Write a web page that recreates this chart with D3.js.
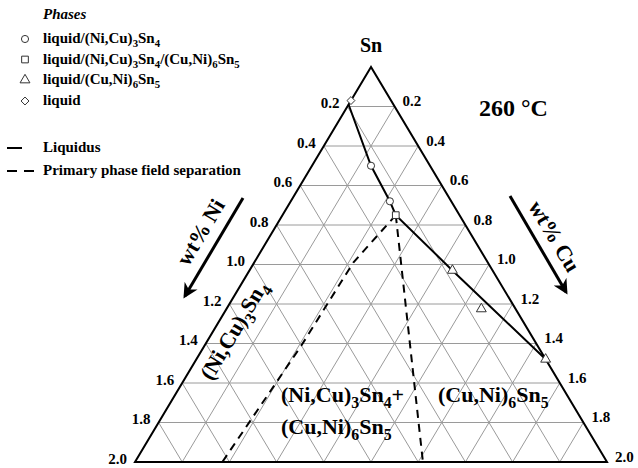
<!DOCTYPE html>
<html>
<head>
<meta charset="utf-8">
<script src="https://cdn.jsdelivr.net/npm/d3@7"></script>
<style>
  body { margin: 0; background: #fff; }
  svg { display: block; }
  text { font-family: "Liberation Serif", "Times New Roman", serif; font-weight: bold; fill: #000; }
</style>
</head>
<body>
<svg id="chart" width="638" height="468"></svg>
<script>
// Sn-rich corner of the Sn-Ni-Cu system, compositions in wt%
const axisMax = 2.0;
const tickValues = [0.2, 0.4, 0.6, 0.8, 1.0, 1.2, 1.4, 1.6, 1.8, 2.0];
const gridSteps = [0.2, 0.4, 0.6, 0.8, 1.0, 1.2, 1.4, 1.6, 1.8];

// measured alloys, each point is [wt% Ni, wt% Cu]
const liqNiCu3Sn4 = [[0.25, 0.25], [0.26, 0.42]];
const liqNiCu3Sn4CuNi6Sn5 = [[0.27, 0.48]];
const liqCuNi6Sn5 = [[0.17, 0.86], [0.145, 1.08], [0.0, 1.48]];
const liqOnly = [[0.17, 0.0]];

// liquidus and the two primary-phase-field boundaries
const liquidus = [[0.19, 0.0], [0.25, 0.25], [0.26, 0.42], [0.27, 0.48], [0.17, 0.86], [0.0, 1.48]];
const boundaryNi3Sn4 = [[0.27, 0.48], [0.57, 0.42], [1.0, 0.41], [1.63, 0.37]];
const boundaryCu6Sn5 = [[0.27, 0.48], [0.78, 1.22]];

const phaseLabels = ["liquid/(Ni,Cu)_3Sn_4", "liquid/(Ni,Cu)_3Sn_4/(Cu,Ni)_6Sn_5", "liquid/(Cu,Ni)_6Sn_5", "liquid"];
const lineLabels = ["Liquidus", "Primary phase field separation"];

const svg = d3.select("#chart");

// depth below the Sn apex follows Ni+Cu, horizontal offset follows Cu-Ni
const yScale = d3.scaleLinear().domain([0, axisMax]).range([67, 462]);
const xScale = d3.scaleLinear().domain([-axisMax, axisMax]).range([135, 607]);
const proj = ([ni, cu]) => [xScale(cu - ni), yScale(ni + cu)];
const line = d3.line().x(d => proj(d)[0]).y(d => proj(d)[1]);

// text with numeric subscripts written as "_3"
function rich(sel, str, fs) {
  const parts = str.split(/(_\d)/).filter(s => s.length);
  let shifted = false;
  parts.forEach(p => {
    if (p[0] === "_") {
      sel.append("tspan").attr("font-size", fs * 0.72).attr("dy", fs * 0.28).text(p.slice(1));
      shifted = true;
    } else {
      const t = sel.append("tspan").text(p);
      if (shifted) { t.attr("dy", -fs * 0.28); shifted = false; }
    }
  });
  return sel;
}

// grid
const grid = svg.append("g").attr("stroke", "#9a9a9a").attr("stroke-width", 1).attr("fill", "none");
gridSteps.forEach(s => {
  grid.append("path").attr("d", line([[s, 0], [0, s]]));
  grid.append("path").attr("d", line([[s, 0], [s, axisMax - s]]));
  grid.append("path").attr("d", line([[0, s], [axisMax - s, s]]));
});

// outline
svg.append("path")
  .attr("d", line([[0, 0], [axisMax, 0], [0, axisMax]]) + "Z")
  .attr("fill", "none").attr("stroke", "#000").attr("stroke-width", 2).attr("stroke-linejoin", "miter");

// tick labels
const tickFmt = d3.format(".1f");
svg.append("g").selectAll("text").data(tickValues).join("text")
  .attr("x", d => proj([d, 0])[0] - 8).attr("y", d => proj([d, 0])[1] + 1.5)
  .attr("text-anchor", "end").attr("font-size", 15).text(tickFmt);
svg.append("g").selectAll("text").data(tickValues).join("text")
  .attr("x", d => proj([0, d])[0] + 8).attr("y", d => proj([0, d])[1] - 0.5)
  .attr("text-anchor", "start").attr("font-size", 15).text(tickFmt);

// phase boundaries
svg.append("path").attr("d", line(boundaryNi3Sn4))
  .attr("fill", "none").attr("stroke", "#000").attr("stroke-width", 2).attr("stroke-dasharray", "8,6");
svg.append("path").attr("d", line(boundaryCu6Sn5))
  .attr("fill", "none").attr("stroke", "#000").attr("stroke-width", 2).attr("stroke-dasharray", "8,6");
svg.append("path").attr("d", line(liquidus))
  .attr("fill", "none").attr("stroke", "#000").attr("stroke-width", 2);

// markers
const symbols = [d3.symbolCircle, d3.symbolSquare, d3.symbolTriangle, d3.symbolDiamond2];
const sizes = [40, 45, 42, 40];
const phaseSets = [liqNiCu3Sn4, liqNiCu3Sn4CuNi6Sn5, liqCuNi6Sn5, liqOnly];
phaseSets.forEach((pts, i) => {
  svg.append("g").selectAll("path").data(pts).join("path")
    .attr("d", d3.symbol(symbols[i], sizes[i]))
    .attr("transform", d => `translate(${proj(d)[0]},${proj(d)[1]})`)
    .attr("fill", "#fff").attr("stroke", "#333").attr("stroke-width", 1);
});

// apex and temperature
svg.append("text").attr("x", xScale(0)).attr("y", 51.5).attr("text-anchor", "middle")
  .attr("font-size", 20).text("Sn");
svg.append("text").attr("x", 479).attr("y", 116).attr("font-size", 24).text("260 °C");

// axis titles with arrows
const edgeAngle = Math.atan2(yScale(axisMax) - yScale(0), xScale(0) - xScale(-axisMax)) * 180 / Math.PI;
svg.append("text").attr("transform", `translate(207,236) rotate(${-edgeAngle})`)
  .attr("text-anchor", "middle").attr("font-size", 22).text("wt% Ni");
svg.append("text").attr("transform", `translate(548,240) rotate(${edgeAngle})`)
  .attr("text-anchor", "middle").attr("font-size", 22).text("wt% Cu");

const defs = svg.append("defs");
defs.append("marker").attr("id", "head").attr("viewBox", "0 0 10 10")
  .attr("refX", 8).attr("refY", 5).attr("markerWidth", 5).attr("markerHeight", 5)
  .attr("orient", "auto").attr("markerUnits", "strokeWidth")
  .append("path").attr("d", "M0,0 L10,5 L0,10 L3,5 Z").attr("fill", "#000");
[[[243, 198], [185, 296]], [[510, 196], [566, 292]]].forEach(([a, b]) => {
  svg.append("line").attr("x1", a[0]).attr("y1", a[1]).attr("x2", b[0]).attr("y2", b[1])
    .attr("stroke", "#000").attr("stroke-width", 3).attr("marker-end", "url(#head)");
});

// primary phase field labels
rich(svg.append("text").attr("transform", `translate(240,334) rotate(${-edgeAngle})`)
  .attr("text-anchor", "middle").attr("font-size", 22), "(Ni,Cu)_3Sn_4", 22);
rich(svg.append("text").attr("x", 281).attr("y", 402).attr("font-size", 22), "(Ni,Cu)_3Sn_4+", 22);
rich(svg.append("text").attr("x", 281).attr("y", 434).attr("font-size", 22), "(Cu,Ni)_6Sn_5", 22);
rich(svg.append("text").attr("x", 438).attr("y", 402).attr("font-size", 22), "(Cu,Ni)_6Sn_5", 22);

// legend
svg.append("text").attr("x", 43).attr("y", 18.5).attr("font-size", 15).attr("font-style", "italic").text("Phases");
const rowY = [43, 63.5, 84, 105];
phaseLabels.forEach((lab, i) => {
  svg.append("path").attr("d", d3.symbol(symbols[i], sizes[i]))
    .attr("transform", `translate(25,${rowY[i] - 4})`)
    .attr("fill", "#fff").attr("stroke", "#333").attr("stroke-width", 1);
  rich(svg.append("text").attr("x", 43).attr("y", rowY[i]).attr("font-size", 15), lab, 15);
});
svg.append("line").attr("x1", 7).attr("x2", 22).attr("y1", 148).attr("y2", 148)
  .attr("stroke", "#000").attr("stroke-width", 2);
svg.append("line").attr("x1", 7).attr("x2", 34).attr("y1", 171).attr("y2", 171)
  .attr("stroke", "#000").attr("stroke-width", 2).attr("stroke-dasharray", "10,7");
svg.append("text").attr("x", 43).attr("y", 152).attr("font-size", 15).text(lineLabels[0]);
svg.append("text").attr("x", 43).attr("y", 175).attr("font-size", 15).text(lineLabels[1]);
</script>
</body>
</html>
